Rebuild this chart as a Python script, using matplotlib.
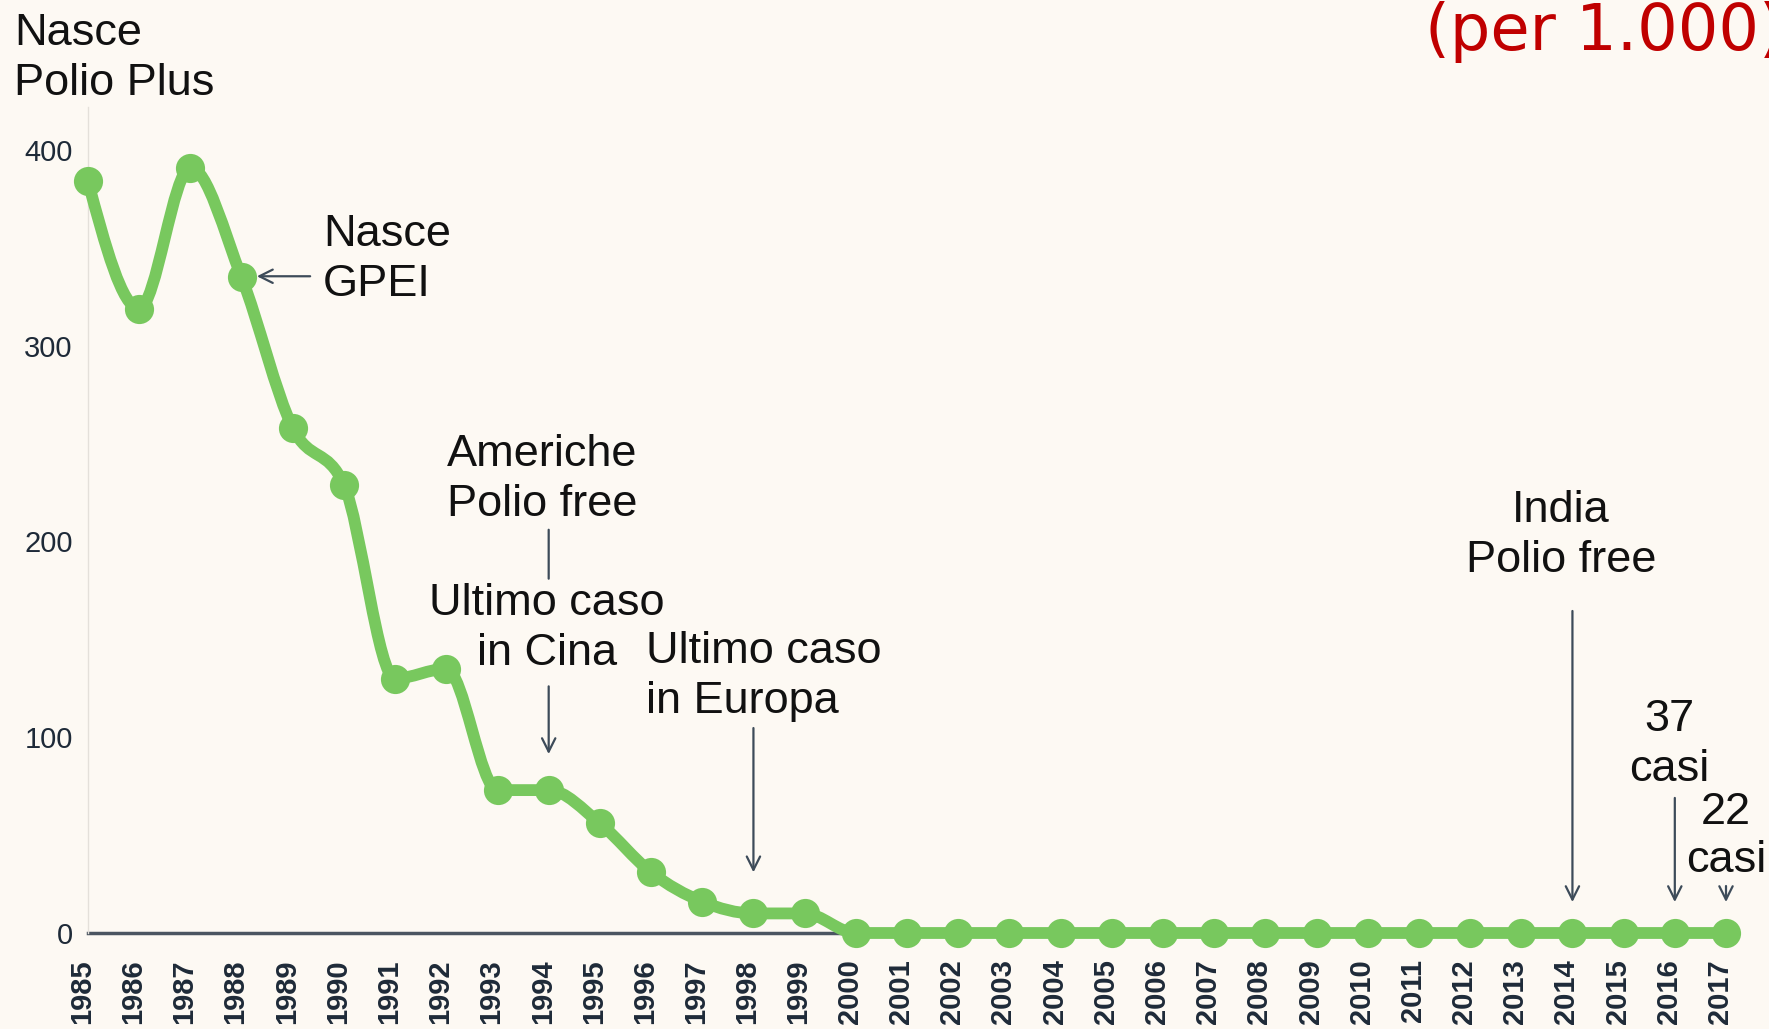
import numpy as np
import matplotlib.pyplot as plt
import matplotlib.transforms as mtransforms
from matplotlib.path import Path
from matplotlib.patches import PathPatch

# Casi di polio nel mondo (migliaia)
anni = list(range(1985, 2018))
casi = [384, 319, 391, 335, 258, 229, 130, 135, 73, 73, 56, 31, 16, 10, 10,
        0, 0, 0, 0, 0, 0, 0, 0, 0, 0, 0, 0, 0, 0, 0, 0, 0, 0]
tick_y = [0, 100, 200, 300, 400]

verde = '#78c85e'
sfondo = '#fdf9f3'
freccia = '#3d4b59'
testo = '#111111'

W, H = 1769, 1029
fig = plt.figure(figsize=(W / 100, H / 100), dpi=100, facecolor=sfondo)
plt.rcParams['font.family'] = ['Liberation Sans', 'DejaVu Sans']

# assi posizionati in pixel: 1985 -> x=88, 2017 -> x=1726; 0 -> y=933, 400 -> y=150
y_top = 422
px_per_unit = (933 - 150) / 400
top_px = 933 - y_top * px_per_unit
ax = fig.add_axes([88 / W, (H - 933) / H, (1726 - 88) / W, (933 - top_px) / H])
ax.set_facecolor(sfondo)
ax.set_xlim(1985, 2017)
ax.set_ylim(0, y_top)


# curva monotona (come d3 curveMonotoneX) disegnata con Bezier cubiche
def curva(xs, ys):
    x = np.asarray(xs, float)
    y = np.asarray(ys, float)
    n = len(x)
    h = np.diff(x)
    s = np.diff(y) / h
    t = np.zeros(n)
    for i in range(1, n - 1):
        p = (s[i - 1] * h[i] + s[i] * h[i - 1]) / (h[i - 1] + h[i])
        t[i] = (np.sign(s[i - 1]) + np.sign(s[i])) * min(abs(s[i - 1]), abs(s[i]), 0.5 * abs(p))
    t[0] = (3 * s[0] - t[1]) / 2
    t[-1] = (3 * s[-1] - t[-2]) / 2
    verts = [(x[0], y[0])]
    codes = [Path.MOVETO]
    for i in range(n - 1):
        dx = h[i] / 3
        verts += [(x[i] + dx, y[i] + dx * t[i]),
                  (x[i + 1] - dx, y[i + 1] - dx * t[i + 1]),
                  (x[i + 1], y[i + 1])]
        codes += [Path.CURVE4] * 3
    return Path(verts, codes)


ax.add_patch(PathPatch(curva(anni, casi), facecolor='none', edgecolor=verde,
                       lw=8.5, capstyle='round', joinstyle='round', zorder=3,
                       clip_on=False))
ax.plot(anni, casi, 'o', ms=21, color=verde, mec='none', zorder=4, clip_on=False)

# spine
for s in ['top', 'right']:
    ax.spines[s].set_visible(False)
ax.spines['left'].set_color('#e4e0da')
ax.spines['left'].set_linewidth(1)
ax.spines['bottom'].set_color('#4b5561')
ax.spines['bottom'].set_linewidth(2.5)
ax.spines['bottom'].set_zorder(2)

ax.set_yticks(tick_y)
ax.set_yticklabels([str(v) for v in tick_y], fontsize=21, color='#1e2a38')
ax.set_xticks(anni)
ax.set_xticklabels([str(a) for a in anni], rotation=90, fontsize=21,
                   fontweight='bold', color='#1e2a38')
ax.tick_params(axis='both', length=0)
ax.tick_params(axis='y', pad=11)
ax.tick_params(axis='x', pad=19)
sposta = mtransforms.ScaledTranslation(-6 / 100, 0, fig.dpi_scale_trans)
for lab in ax.get_xticklabels():
    lab.set_transform(lab.get_transform() + sposta)


# testi in pixel della figura, una riga alla volta
def scrivi(x, y, righe, ha='left', size=32.5, color=testo, passo=50):
    for k, r in enumerate(righe):
        fig.text(x / W, 1 - (y + k * passo) / H, r, ha=ha, va='baseline',
                 fontsize=size, color=color)


def arrow(x0, y0, x1, y1, style='->'):
    ax.annotate('', xy=(x1, y1), xytext=(x0, y0),
                arrowprops=dict(arrowstyle=style, color=freccia, lw=1.6,
                                shrinkA=0, shrinkB=0, mutation_scale=24))


scrivi(14, 45, ['Nasce', 'Polio Plus'])
# nel riferimento il titolo rosso esce dal bordo destro
fig.text(1425 / W, 1 - 50 / H, '(per 1.000)', ha='left', va='baseline',
         fontsize=46, color='#c00000', family='DejaVu Sans')
scrivi(323, 246, ['Nasce', 'GPEI'])
arrow(1989.34, 335.5, 1988.3, 335.5)
scrivi(542, 466, ['Americhe', 'Polio free'], ha='center')
arrow(1994, 206, 1994, 181, style='-')
scrivi(547, 615, ['Ultimo caso', 'in Cina'], ha='center')
arrow(1994, 126, 1994, 91.4)
scrivi(646, 663, ['Ultimo caso', 'in Europa'])
arrow(1998, 104.7, 1998, 31)
scrivi(1561, 522, ['India', 'Polio free'], ha='center')
arrow(2014, 164.5, 2014, 15.8)
scrivi(1669, 731, ['37', 'casi'], ha='center')
arrow(2016, 69, 2016, 15.8)
scrivi(1726, 824, ['22', 'casi'], ha='center', passo=48)
arrow(2017, 24, 2017, 15.8)

fig.savefig('out.png', dpi=100, facecolor=sfondo)
